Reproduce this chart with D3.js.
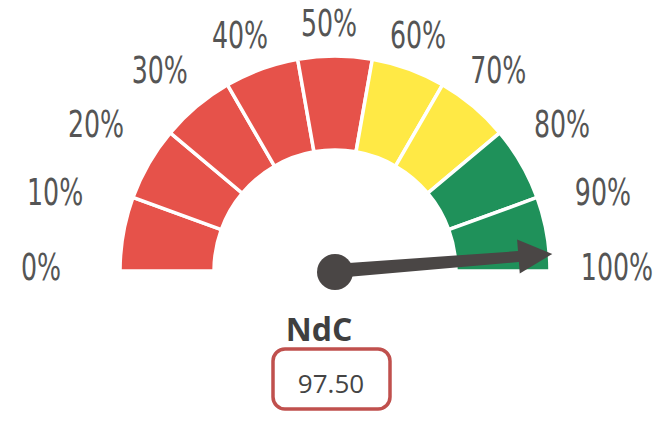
<!DOCTYPE html>
<html>
<head>
<meta charset="utf-8">
<script src="https://d3js.org/d3.v7.min.js"></script>
<style>
  html, body { margin: 0; padding: 0; background: #fff; }
  #gauge { width: 654px; height: 423px; }
</style>
</head>
<body>
<div id="gauge"></div>
<script>

// gauge data
var tickValues = [0, 10, 20, 30, 40, 50, 60, 70, 80, 90, 100];
var tickLabels = ['0%', '10%', '20%', '30%', '40%', '50%', '60%', '70%', '80%', '90%', '100%'];
// dial is split in 9 equal bands (they don't line up with the ticks)
var bandIndex = [0, 1, 2, 3, 4, 5, 6, 7, 8];
var bandZones = ['bad', 'bad', 'bad', 'bad', 'bad', 'mid', 'mid', 'good', 'good'];
var gaugeValue = 97.5;
var gaugeTitle = 'NdC';
var gaugeValueText = '97.50';

var zoneColors = { bad: '#e6524a', mid: '#ffe945', good: '#1f915a' };

var width = 654;
var height = 423;
var cx = 335;
var cy = 271;
var outerR = 215;
var innerR = 121;

var svg = d3
    .select('#gauge')
    .append('svg')
    .attr('width', width)
    .attr('height', height);

var chart = svg.append('g').attr('transform', `translate(${cx},${cy})`);

// d3.arc angles: 0 at 12 o'clock, clockwise
var angle = d3.scaleLinear().domain([0, 100]).range([-Math.PI / 2, Math.PI / 2]);
var bandAngle = d3.scaleLinear().domain([0, bandIndex.length]).range([-Math.PI / 2, Math.PI / 2]);
// svg rotation of needle (0 = pointing right)
var needleRot = d3.scaleLinear().domain([0, 100]).range([-180, 0]);

var arc = d3.arc()
    .innerRadius(innerR)
    .outerRadius(outerR)
    .startAngle(d => bandAngle(d))
    .endAngle(d => bandAngle(d + 1));

chart.append('g')
    .selectAll('path')
    .data(bandIndex)
    .enter()
    .append('path')
    .attr('d', arc)
    .attr('fill', (d, i) => zoneColors[bandZones[i]])
    .attr('stroke', '#fff')
    .attr('stroke-width', 3.5);

// tick labels on an ellipse around the dial
var labelRx = 288;
var labelRy = 244;
chart.append('g')
    .selectAll('text')
    .data(tickValues)
    .enter()
    .append('text')
    .attr('transform', d => {
        var a = angle(d);
        var x = labelRx * Math.sin(a) - 6;
        var y = -labelRy * Math.cos(a) - 4;
        return `translate(${x},${y}) scale(0.74,1)`;
    })
    .attr('text-anchor', 'middle')
    .attr('dominant-baseline', 'central')
    .style('font-family', '"Liberation Sans Narrow", "DejaVu Sans Condensed", sans-serif')
    .style('font-size', '38px')
    .style('fill', '#555')
    .text((d, i) => tickLabels[i]);

// needle
var L = 218, headLen = 34, headW = 17, baseW = 7, neckW = 5.5;
var needlePts = [
    [0, -baseW], [L - headLen, -neckW], [L - headLen, -headW], [L, 0],
    [L - headLen, headW], [L - headLen, neckW], [0, baseW]
];
var needle = chart.append('g').attr('transform', `rotate(${needleRot(gaugeValue)})`);
needle.append('path')
    .attr('d', d3.line()(needlePts) + 'Z')
    .attr('fill', '#4a4645');
chart.append('circle')
    .attr('r', 18)
    .attr('cy', 1)
    .attr('fill', '#4a4645');

// title and value box
svg.append('text')
    .attr('x', 319)
    .attr('y', 341)
    .attr('text-anchor', 'middle')
    .style('font-family', '"Open Sans", sans-serif')
    .style('font-weight', 'bold')
    .style('font-size', '32px')
    .style('fill', '#3f3f3f')
    .text(gaugeTitle);

svg.append('rect')
    .attr('x', 273)
    .attr('y', 349)
    .attr('width', 117)
    .attr('height', 60)
    .attr('rx', 12)
    .attr('fill', '#fff')
    .attr('stroke', '#c0504d')
    .attr('stroke-width', 3.5);

svg.append('text')
    .attr('x', 331)
    .attr('y', 393)
    .attr('text-anchor', 'middle')
    .style('font-family', '"Open Sans", sans-serif')
    .style('font-size', '26px')
    .style('fill', '#444')
    .text(gaugeValueText);

</script>
</body>
</html>
